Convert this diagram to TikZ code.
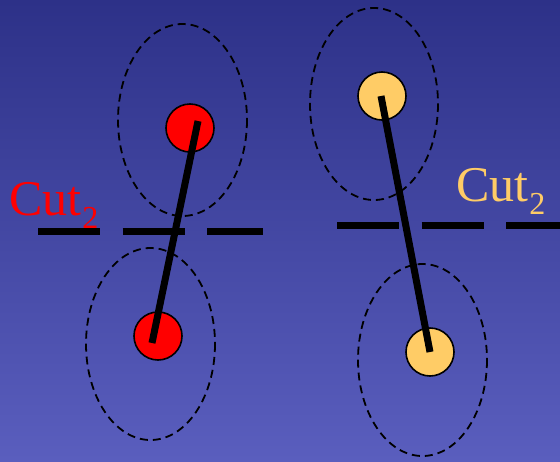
\documentclass[tikz,border=0pt]{standalone}
\usepackage{fontspec}
\setmainfont{Liberation Serif}
\definecolor{bgtop}{RGB}{45,49,136}
\definecolor{bgbot}{RGB}{90,94,190}
\definecolor{ballred}{RGB}{255,0,0}
\definecolor{ballyel}{RGB}{255,204,102}
\newcommand{\cutsub}[1]{{\fontsize{32}{32}\selectfont\kern1pt\raisebox{-13pt}{#1}}}
\tikzset{
  region/.style={draw=black, line width=1.8pt, dash pattern=on 8pt off 5pt},
  ball/.style={draw=black, line width=1.6pt},
  stick/.style={line width=7pt, black},
  cutline/.style={line width=7pt, black, dash pattern=on 62pt off 22.5pt},
  cutlabel/.style={font=\fontsize{50}{50}\selectfont, inner sep=0pt, anchor=base west}
}
\begin{document}
\begin{tikzpicture}[x=1pt,y=-1pt]
\shade[top color=bgtop, bottom color=bgbot] (0,0) rectangle (560,461);
\useasboundingbox (0,0) rectangle (560,461);
% left pair
\draw[region] (182.5,120) ellipse [x radius=64.5, y radius=96];
\draw[region] (150.5,344) ellipse [x radius=64.5, y radius=96];
\node[ball, fill=ballred, circle, minimum size=48pt, inner sep=0pt] (r1) at (190,128) {};
\node[ball, fill=ballred, circle, minimum size=48pt, inner sep=0pt] (r2) at (158,336) {};
\coordinate (r1s) at (198,121);
\coordinate (r2s) at (152,343);
\draw[stick] (r1s) -- (r2s);
\coordinate (cl1) at (38,231.5);
\coordinate (cl2) at (263,231.5);
\draw[cutline] (cl1) -- (cl2);
\node[cutlabel, text=ballred] (lab1) at (9,215) {Cut\cutsub{2}};
% right pair
\draw[region] (374,104) ellipse [x radius=64, y radius=96];
\draw[region] (422.5,360) ellipse [x radius=64.5, y radius=96];
\node[ball, fill=ballyel, circle, minimum size=48pt, inner sep=0pt] (y1) at (382,96) {};
\node[ball, fill=ballyel, circle, minimum size=48pt, inner sep=0pt] (y2) at (430,352) {};
\coordinate (y1s) at (381,96);
\coordinate (y2s) at (430,352);
\draw[stick] (y1s) -- (y2s);
\coordinate (cr1) at (337,225.5);
\coordinate (cr2) at (570,225.5);
\draw[cutline] (cr1) -- (cr2);
\node[cutlabel, text=ballyel] (lab2) at (456,201) {Cut\cutsub{2}};
\end{tikzpicture}
\end{document}
